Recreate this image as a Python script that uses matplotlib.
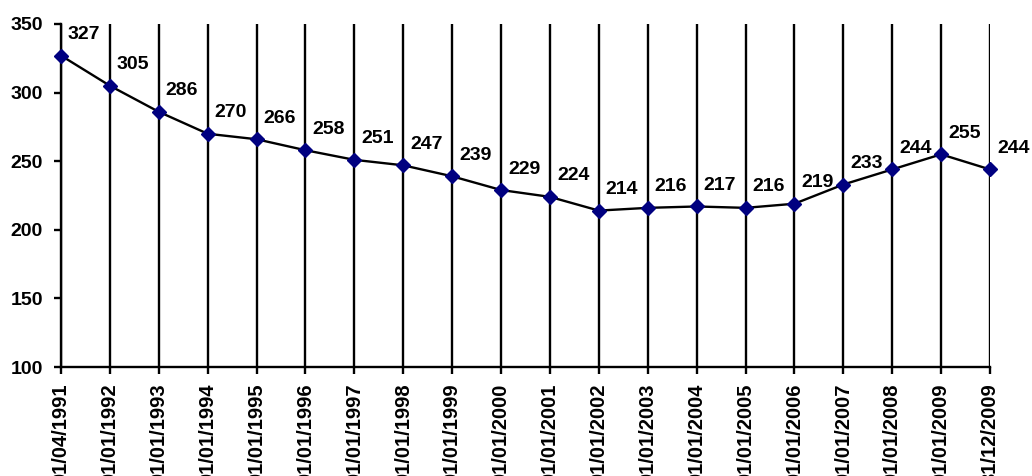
import matplotlib
matplotlib.use('Agg')
import matplotlib.pyplot as plt
import numpy as np

plt.rcParams['font.family'] = ['Liberation Sans', 'DejaVu Sans']
plt.rcParams['font.weight'] = 'bold'

datas = ["01/04/1991", "01/01/1992", "01/01/1993", "01/01/1994", "01/01/1995",
         "01/01/1996", "01/01/1997", "01/01/1998", "01/01/1999", "01/01/2000",
         "01/01/2001", "01/01/2002", "01/01/2003", "01/01/2004", "01/01/2005",
         "01/01/2006", "01/01/2007", "01/01/2008", "01/01/2009", "31/12/2009"]
valores = [327, 305, 286, 270, 266, 258, 251, 247, 239, 229,
           224, 214, 216, 217, 216, 219, 233, 244, 255, 244]
y_ticks = [100, 150, 200, 250, 300, 350]

fig = plt.figure(figsize=(10.32, 4.76), dpi=100)
ax = fig.add_axes([61/1032, 1 - 367/476, (990 - 61)/1032, (367 - 24)/476])

x = np.arange(len(valores))
ax.plot(x, valores, color='black', linewidth=1.7, zorder=3,
        marker='D', markersize=7.5, markerfacecolor='#000080',
        markeredgecolor='#000080', clip_on=False)

for xi, v in zip(x, valores):
    ax.annotate(f"{v}", (xi, v), xytext=(5, 9), textcoords='offset points',
                ha='left', va='bottom', fontsize=14, fontweight='bold',
                annotation_clip=False, zorder=4)

ax.set_xlim(0, len(valores) - 1)
ax.set_ylim(100, 350)
ax.set_yticks(y_ticks)
ax.set_yticklabels([str(t) for t in y_ticks], fontsize=14, fontweight='bold')
ax.set_xticks(x)
ax.set_xticklabels(datas, rotation=90, fontsize=14.5, fontweight='bold', va='top')

ax.grid(axis='x', color='black', linewidth=1.7)
ax.grid(axis='y', visible=False)
ax.set_axisbelow(True)

for s in ['top', 'right']:
    ax.spines[s].set_visible(False)
for s in ['left', 'bottom']:
    ax.spines[s].set_linewidth(1.7)
    ax.spines[s].set_color('black')

ax.tick_params(axis='both', direction='out', length=5, width=1.7, colors='black')
ax.tick_params(axis='y', pad=8)
ax.tick_params(axis='x', pad=7)

plt.savefig("out.png", dpi=100)
plt.close()
